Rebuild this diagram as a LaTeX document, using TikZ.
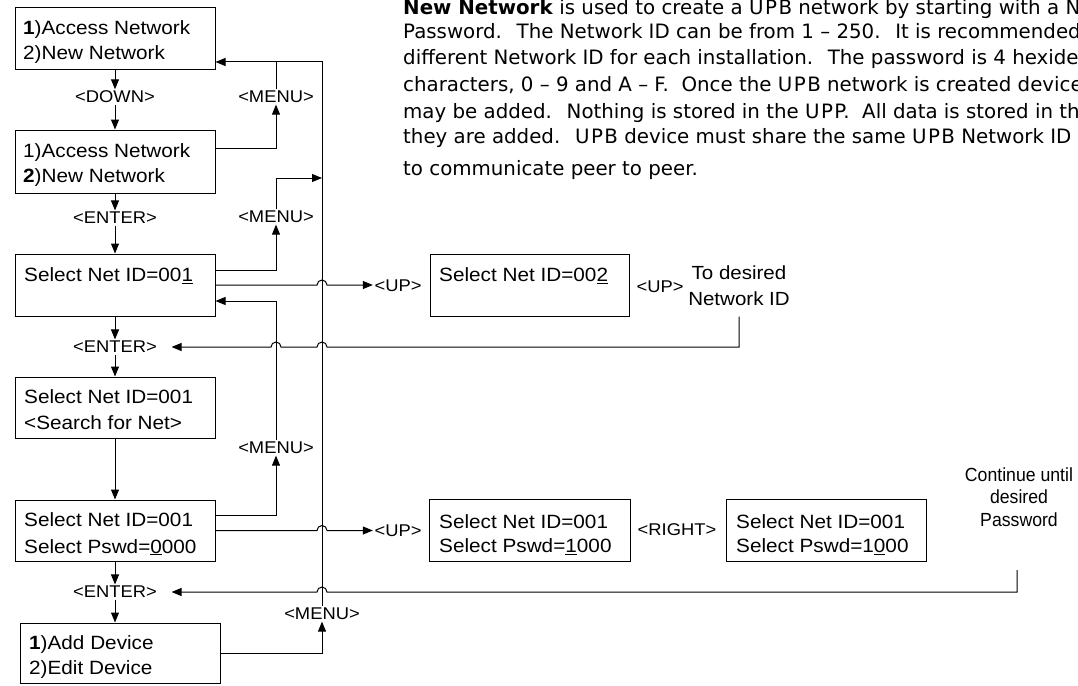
\documentclass[tikz,border=0pt]{standalone}
\usepackage{fontspec}
\setmainfont{Liberation Sans}
\newfontfamily\boxfont[FakeStretch=1.08]{Liberation Sans}
\newfontfamily\narrowfont[FakeStretch=0.93]{Liberation Sans}
\newfontfamily\parafont{DejaVu Sans}
\usetikzlibrary{arrows.meta}
\newcommand\upb{U\kern1.5pt P\kern1.5pt B}
\tikzset{
  box/.style={draw, line width=1pt, minimum width=200pt, minimum height=61pt, inner sep=0pt},
  txt/.style={anchor=base west, inner sep=0pt, font=\boxfont\fontsize{19.2}{25}\selectfont},
  lbl/.style={inner sep=1.5pt, font=\boxfont\fontsize{17}{20}\selectfont},
  para/.style={anchor=base west, inner sep=0pt, font=\parafont\fontsize{19.8}{22}\selectfont},
  conn/.style={line width=1pt},
  arr/.style={conn, -{Triangle[length=10pt,width=8pt]}},
}
\begin{document}
\begin{tikzpicture}[x=1pt,y=-1pt]
\useasboundingbox (0,0) rectangle (1078,685);
\clip (0,0) rectangle (1078,685);

% paragraph
\node[para] (p1) at (403,15) {\textbf{New Network} is used to create a \upb{} network by starting with a Ne};
\node[para] (p2) at (403,39) {Password.~ The Network ID can be from 1 – 250.~ It is recommended};
\node[para] (p3) at (403,65) {different Network ID for each installation.~ The password is 4 hexide};
\node[para] (p4) at (403,91) {characters, 0 – 9 and A – F.~ Once the \upb{} network is created device};
\node[para] (p5) at (403,118) {may be added.~ Nothing is stored in the U\kern1.5pt P\kern1.5pt P.~ All data is stored in th};
\node[para] (p6) at (403,143) {they are added.~ \upb{} device must share the same \upb{} Network ID};
\node[para] (p7) at (403,175) {to communicate peer to peer.};

% boxes
\node[box] (b1) at (115,38.5) {};
\node[box, minimum height=63pt] (b2) at (115,161.5) {};
\node[box, minimum height=62pt] (b3) at (115,285) {};
\node[box] (b4) at (115,407.5) {};
\node[box] (b5) at (115,530.5) {};
\node[box, minimum height=60pt] (b6) at (120,653) {};
\node[box, minimum width=199pt, minimum height=62pt] (b7) at (529.5,285) {};
\node[box, minimum width=201pt, minimum height=62pt] (b8) at (529.5,530) {};
\node[box, minimum height=62pt] (b9) at (826,530) {};

% box texts
\node[txt] (t1a) at (23,34.8) {\textbf{1})Access Network};
\node[txt] (t1b) at (23,59.8) {2)New Network};
\node[txt] (t2a) at (23,157.8) {1)Access Network};
\node[txt] (t2b) at (23,182.8) {\textbf{2})New Network};
\node[txt] (t3a) at (24,281.8) {Select Net ID=00\underline{1}};
\node[txt] (t4a) at (24,403.8) {Select Net ID=001};
\node[txt] (t4b) at (24,429.8) {<Search for Net>};
\node[txt] (t5a) at (24,526.8) {Select Net ID=001};
\node[txt] (t5b) at (24,553) {Select Pswd=\underline{0}000};
\node[txt] (t6a) at (29,649.8) {\textbf{1})Add Device};
\node[txt] (t6b) at (29,674.8) {2)Edit Device};
\node[txt] (t7a) at (439,281.8) {Select Net ID=00\underline{2}};
\node[txt] (t8a) at (439,528.6) {Select Net ID=001};
\node[txt] (t8b) at (439,552.6) {Select Pswd=\underline{1}000};
\node[txt] (t9a) at (736,528.6) {Select Net ID=001};
\node[txt] (t9b) at (736,552.6) {Select Pswd=1\underline{0}00};

% labels
\node[lbl] (d1) at (115,97) {<DOWN>};
\node[lbl] (e1) at (115,218) {<ENTER>};
\node[lbl] (e2) at (115,347) {<ENTER>};
\node[lbl] (e3) at (115,592) {<ENTER>};
\node[lbl] (m1) at (276,97) {<MENU>};
\node[lbl] (m2) at (276,217) {<MENU>};
\node[lbl] (m3) at (276,448) {<MENU>};
\node[lbl] (m4) at (322,614) {<MENU>};
\node[lbl] (u1) at (398,286) {<UP>};
\node[lbl] (u2) at (660,287) {<UP>};
\node[lbl] (u3) at (398,531) {<UP>};
\node[lbl] (r1) at (677,530) {<RIGHT>};
\node[inner sep=0pt, align=center, font=\boxfont\fontsize{19}{26}\selectfont] (td) at (739,286) {To desired\\Network ID};
\node[inner sep=0pt, align=center, font=\narrowfont\fontsize{19}{22.5}\selectfont] (pw) at (1019,497) {Continue until\\desired\\Password};

\coordinate (vl) at (322,62);
\coordinate (j2) at (322,178);
\coordinate (pwl) at (1017,570);

% main vertical flow
\draw[arr] (b1.south) -- (d1.north);
\draw[arr] (d1.south) -- (b2.north);
\draw[arr] (b2.south) -- (e1.north);
\draw[arr] (e1.south) -- (b3.north);
\draw[arr] (b3.south) -- (e2.north);
\draw[arr] (e2.south) -- (b4.north);
\draw[arr] (b4.south) -- (b5.north);
\draw[arr] (b5.south) -- (e3.north);
\draw[arr] (e3.south) -- (e3.south |- b6.north);

% menu returns
\draw[arr] ([yshift=13.5pt]b2.east) -| (m1.south);
\draw[conn] (m1.north) -- (m1.north |- vl);
\draw[arr] (b6.east) -| (m4.south);
\draw[arr] (m4.north) -- (vl) -- (vl -| b1.east);
\draw[arr] ([yshift=15pt]b3.east) -| (m2.south);
\draw[arr] (m2.north) |- (j2);
\draw[arr] ([yshift=15.5pt]b5.east) -| (m3.south);
\draw[arr] (m3.north) |- ([yshift=-16pt]b3.east);

% up branches with hops
\draw[arr] (b3.east) -- ([xshift=-5pt]vl |- b3.east) arc[start angle=180,end angle=0,radius=5pt] -- (u1.west |- b3.east);
\draw[arr] (b5.east) -- ([xshift=-5pt]vl |- b5.east) arc[start angle=180,end angle=0,radius=5pt] -- (u3.west |- b5.east);

% enter returns with hops
\draw[arr] (td.south |- b7.south) -- (td.south |- e2) -- ([xshift=5pt]vl |- e2) arc[start angle=0,end angle=180,radius=5pt] -- ([xshift=5pt]m3 |- e2) arc[start angle=0,end angle=180,radius=5pt] -- ([xshift=13pt]e2.east);
\draw[arr] (pwl) -- (pwl |- e3) -- ([xshift=5pt]vl |- e3) arc[start angle=0,end angle=180,radius=5pt] -- ([xshift=13pt]e3.east);
\end{tikzpicture}
\end{document}
